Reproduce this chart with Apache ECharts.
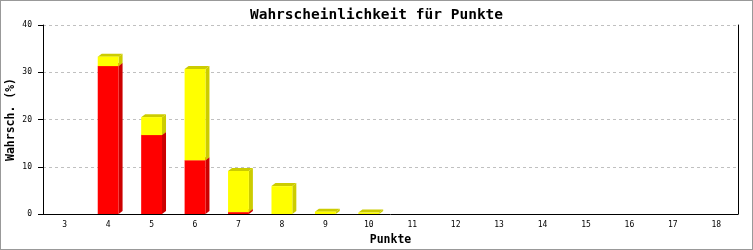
<!DOCTYPE html>
<html><head><meta charset="utf-8">
<script src="https://cdn.jsdelivr.net/npm/echarts@6/dist/echarts.min.js"></script>
<style>
html,body{margin:0;padding:0;background:#fff;}
#wrap{position:relative;width:753px;height:250px;}
#c{position:absolute;left:0;top:0;width:753px;height:250px;}
#frame{position:absolute;left:0;top:0;width:753px;height:250px;box-sizing:border-box;border:1px solid #999;pointer-events:none;}
</style></head><body>
<div id="wrap"><div id="c"></div><div id="frame"></div></div>
<script>
var categories = ['3','4','5','6','7','8','9','10','11','12','13','14','15','16','17','18'];
var redValues = [0, 31.3, 16.7, 11.4, 0.4, 0, 0, 0, 0, 0, 0, 0, 0, 0, 0, 0];
var yellowValues = [0, 2.0, 3.8, 19.3, 8.7, 5.9, 0.5, 0.3, 0, 0, 0, 0, 0, 0, 0, 0];
var yTicks = [0, 10, 20, 30, 40];

var chart = echarts.init(document.getElementById('c'), null, {renderer: 'canvas'});
var DX = 4, DY = 3;

function makeRender(values, below, front, dark) {
  return function (params, api) {
    var i = params.dataIndex;
    var v = values[i];
    if (!v) return null;
    var base = below ? below[i] : 0;
    var pb = api.coord([i, base]);
    var pt = api.coord([i, base + v]);
    var w = api.size([1, 0])[0] * 0.48;
    var x0 = pb[0] - w / 2, x1 = pb[0] + w / 2;
    var yb = pb[1], yt = pt[1];
    return {
      type: 'group',
      children: [
        {type: 'polygon', shape: {points: [[x1, yt], [x1 + DX, yt - DY], [x1 + DX, yb - DY], [x1, yb]]}, style: {fill: dark}},
        {type: 'polygon', shape: {points: [[x0, yt], [x0 + DX, yt - DY], [x1 + DX, yt - DY], [x1, yt]]}, style: {fill: dark}},
        {type: 'rect', shape: {x: x0, y: yt, width: w, height: yb - yt}, style: {fill: front}}
      ]
    };
  };
}

var redData = categories.map(function (c, i) { return [i, redValues[i]]; });
var yellowData = categories.map(function (c, i) { return [i, redValues[i] + yellowValues[i]]; });

chart.setOption({
  animation: false,
  backgroundColor: '#fff',
  title: {
    text: 'Wahrscheinlichkeit für Punkte',
    left: 'center', top: 3,
    textStyle: {fontFamily: 'DejaVu Sans Mono', fontWeight: 'bold', fontSize: 14.5, color: '#000'}
  },
  grid: {left: 43, right: 15, top: 25, bottom: 36, outerBoundsMode: 'none', containLabel: false},
  xAxis: {
    type: 'category', data: categories, boundaryGap: true,
    name: 'Punkte', nameLocation: 'middle', nameGap: 19,
    nameTextStyle: {fontFamily: 'DejaVu Sans Mono', fontWeight: 'bold', fontSize: 11.5, color: '#000'},
    axisLine: {lineStyle: {color: '#000', width: 1}},
    axisTick: {show: false},
    axisLabel: {fontFamily: 'DejaVu Sans Mono', fontSize: 8, color: '#000', margin: 7},
    splitLine: {show: false}
  },
  yAxis: [{
    type: 'value', min: 0, max: 40, interval: 10,
    name: 'Wahrsch. (%)', nameLocation: 'middle', nameGap: 26, nameMoveOverlap: false,
    nameTextStyle: {fontFamily: 'DejaVu Sans Mono', fontWeight: 'bold', fontSize: 11.5, color: '#000'},
    axisLine: {show: true, lineStyle: {color: '#000', width: 1}},
    axisTick: {show: true, length: 5, lineStyle: {color: '#000'}},
    axisLabel: {fontFamily: 'DejaVu Sans Mono', fontSize: 8, color: '#000', margin: 11,
      formatter: function (v) { return yTicks.indexOf(v) >= 0 ? String(v) : ''; }},
    splitLine: {show: true, lineStyle: {color: '#c0c0c0', type: [3, 3], width: 1}}
  }, {
    type: 'value', min: 0, max: 40, interval: 10, position: 'right',
    axisLine: {show: true, lineStyle: {color: '#000', width: 1}},
    axisTick: {show: false}, axisLabel: {show: false}, splitLine: {show: false}
  }],
  series: [
    {type: 'custom', data: redData, renderItem: makeRender(redValues, null, '#ff0000', '#cc0000'), encode: {x: 0, y: 1}},
    {type: 'custom', data: yellowData, renderItem: makeRender(yellowValues, redValues, '#ffff00', '#cccc00'), encode: {x: 0, y: 1}}
  ]
});
</script>
</body></html>
